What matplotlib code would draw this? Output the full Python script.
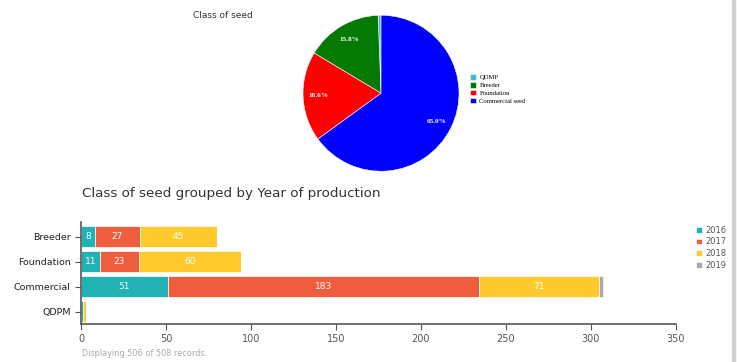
import numpy as np
import matplotlib.pyplot as plt
from matplotlib.patches import Rectangle

# pie data
pie_labels = ['QDMP', 'Breeder', 'Foundation', 'Commercial seed']
pie_values = [0.6, 15.8, 18.6, 65.0]
pie_colors = ['#3cc0c8', '#047a04', '#ff0000', '#0000ff']

# bar data
categories = ['Breeder', 'Foundation', 'Commercial', 'QDPM']
years = ['2016', '2017', '2018', '2019']
y2016 = [8, 11, 51, 1]
y2017 = [27, 23, 183, 0]
y2018 = [45, 60, 71, 2]
y2019 = [0, 0, 2, 0]
bar_colors = ['#22b2b4', '#f05c3e', '#ffca2e', '#a9a9a9']


def main():
    fig = plt.figure(figsize=(7.37, 3.62), dpi=100)

    # pie chart
    ax_pie = fig.add_axes([0.411, 0.527, 0.212, 0.431])
    wedges, _, autotexts = ax_pie.pie(
        pie_values, colors=pie_colors, startangle=90, counterclock=True,
        autopct=lambda p: '%.1f%%' % p if p > 5 else '', pctdistance=0.8,
        wedgeprops=dict(edgecolor='white', linewidth=0.4))
    for t in autotexts:
        t.set_color('white')
        t.set_fontsize(5.2)
        t.set_family('Liberation Serif')
        t.set_fontweight('bold')
    ax_pie.set_aspect('equal')
    ax_pie.set_xlim(-1, 1)
    ax_pie.set_ylim(-1, 1)
    ax_pie.legend(wedges, pie_labels, loc='center left',
                  bbox_to_anchor=(470 / 737, 1 - 89 / 362), bbox_transform=fig.transFigure,
                  frameon=False, prop={'family': 'Liberation Serif', 'size': 4.8},
                  handlelength=0.9, handleheight=0.9, handletextpad=0.5,
                  labelspacing=0.25, borderaxespad=0, borderpad=0)
    fig.text(193 / 737, 1 - 16 / 362, 'Class of seed', fontsize=6.5, color='#333333',
             va='center', ha='left')

    # stacked bar chart
    ax = fig.add_axes([0.1099, 0.105, 0.8073, 0.2818])
    y = np.arange(len(categories))
    left = np.zeros(len(categories))
    series = [y2016, y2017, y2018, y2019]
    for name, vals, col in zip(years, series, bar_colors):
        vals = np.array(vals, dtype=float)
        bars = ax.barh(y, vals, left=left, height=0.84, color=col, label=name,
                       edgecolor='white', linewidth=0.5)
        for b, v, l in zip(bars, vals, left):
            if v >= 5:
                ax.text(l + v / 2, b.get_y() + b.get_height() / 2, '%d' % v,
                        ha='center', va='center', color='white', fontsize=6.5)
        left += vals

    ax.set_xlim(0, 350)
    ax.set_ylim(3.48, -0.6)
    ax.set_yticks(y)
    ax.set_yticklabels(categories, fontsize=6.8, color='#222222')
    ax.set_xticks(np.arange(0, 351, 50))
    ax.tick_params(axis='x', labelsize=7, colors='#555555', length=4, direction='out')
    ax.tick_params(axis='y', length=4, colors='#555555', labelcolor='#222222')
    for s in ['top', 'right']:
        ax.spines[s].set_visible(False)
    for s in ['left', 'bottom']:
        ax.spines[s].set_color('#555555')
        ax.spines[s].set_linewidth(1.2)

    ax.legend(loc='upper left', bbox_to_anchor=(696 / 737, 1 - 226 / 362),
              bbox_transform=fig.transFigure, frameon=False, fontsize=6,
              labelcolor='#555555', handlelength=0.7, handleheight=0.7,
              handletextpad=0.4, labelspacing=0.3, borderaxespad=0, borderpad=0)

    fig.text(82 / 737, 1 - 193 / 362, 'Class of seed grouped by Year of production',
             fontsize=9.7, color='#333333', va='center', ha='left')
    fig.text(82 / 737, 1 - 353 / 362, 'Displaying 506 of 508 records.',
             fontsize=5.9, color='#aaaaaa', va='center', ha='left')

    # gray scroll border on the right
    fig.patches.append(Rectangle((732 / 737, 0), 3 / 737, 1, transform=fig.transFigure,
                                 color='#d0d0d0', zorder=0))

    fig.savefig('out.png', dpi=100)


if __name__ == '__main__':
    main()
